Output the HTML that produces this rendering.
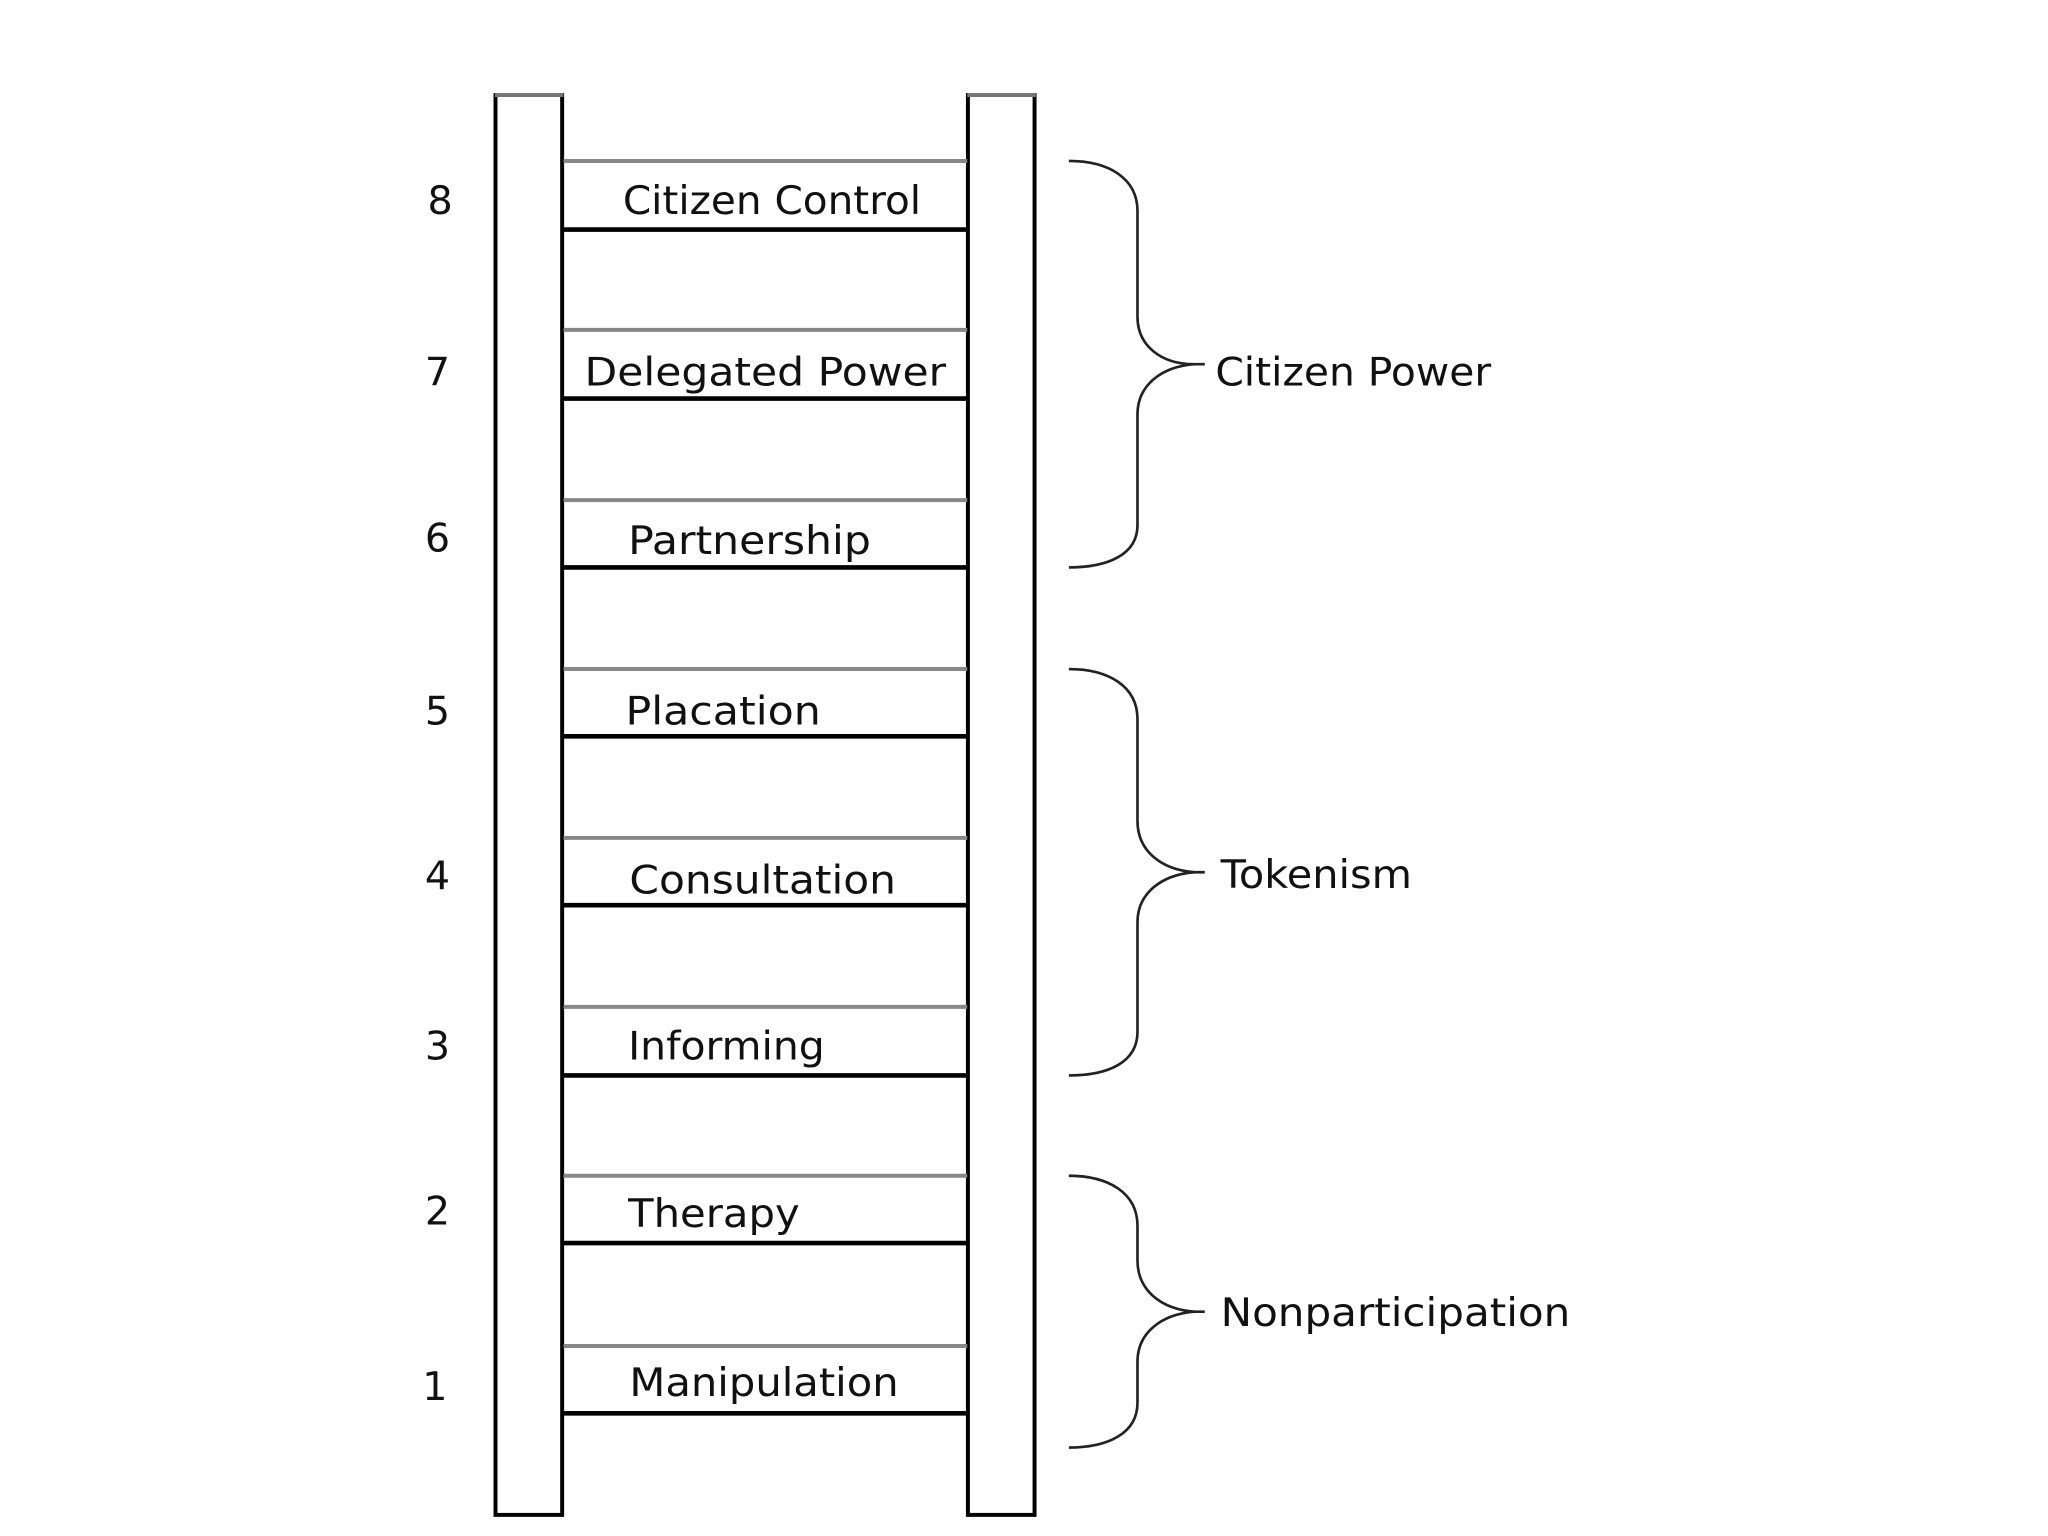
<!DOCTYPE html>
<html><head><meta charset="utf-8"><style>html,body{margin:0;padding:0;background:#fff}svg{display:block}</style></head>
<body>
<svg width="2048" height="1536" viewBox="0 0 1552 1164" xmlns="http://www.w3.org/2000/svg" font-family="'DejaVu Sans','Liberation Sans',sans-serif" font-size="30" fill="#111">
<rect width="1552" height="1164" fill="#fff"/>
<!-- rails -->
<rect x="375.5" y="72" width="50.5" height="1076" fill="#fff" stroke="#000" stroke-width="3"/>
<rect x="733.5" y="72" width="50.5" height="1076" fill="#fff" stroke="#000" stroke-width="3"/>
<line x1="375" y1="72" x2="427" y2="72" stroke="#777" stroke-width="3"/>
<line x1="733" y1="72" x2="785" y2="72" stroke="#777" stroke-width="3"/>
<g stroke-width="3">
<g stroke="#888">
<line x1="427" y1="122" x2="733" y2="122"/><line x1="427" y1="250" x2="733" y2="250"/>
<line x1="427" y1="379" x2="733" y2="379"/><line x1="427" y1="507" x2="733" y2="507"/>
<line x1="427" y1="635" x2="733" y2="635"/><line x1="427" y1="763" x2="733" y2="763"/>
<line x1="427" y1="891" x2="733" y2="891"/><line x1="427" y1="1020" x2="733" y2="1020"/>
</g>
<g stroke="#000" stroke-width="3.5">
<line x1="427" y1="174" x2="733" y2="174"/><line x1="427" y1="302" x2="733" y2="302"/>
<line x1="427" y1="430" x2="733" y2="430"/><line x1="427" y1="558" x2="733" y2="558"/>
<line x1="427" y1="686" x2="733" y2="686"/><line x1="427" y1="815" x2="733" y2="815"/>
<line x1="427" y1="942" x2="733" y2="942"/><line x1="427" y1="1071" x2="733" y2="1071"/>
</g>
</g>
<!-- labels -->
<g stroke="none">
<text x="472" y="162" textLength="226" lengthAdjust="spacingAndGlyphs">Citizen Control</text>
<text x="443" y="292" textLength="274" lengthAdjust="spacingAndGlyphs">Delegated Power</text>
<text x="476" y="420" textLength="184" lengthAdjust="spacingAndGlyphs">Partnership</text>
<text x="474" y="549" textLength="148" lengthAdjust="spacingAndGlyphs">Placation</text>
<text x="477" y="677" textLength="202" lengthAdjust="spacingAndGlyphs">Consultation</text>
<text x="476" y="803" textLength="149" lengthAdjust="spacingAndGlyphs">Informing</text>
<text x="476" y="930" textLength="130" lengthAdjust="spacingAndGlyphs">Therapy</text>
<text x="477" y="1058" textLength="204" lengthAdjust="spacingAndGlyphs">Manipulation</text>
<text x="324" y="162">8</text>
<text x="322" y="292">7</text>
<text x="322" y="418">6</text>
<text x="322" y="549">5</text>
<text x="322" y="674">4</text>
<text x="322" y="803">3</text>
<text x="322" y="928">2</text>
<text x="320" y="1061">1</text>
<text x="921" y="292" textLength="209" lengthAdjust="spacingAndGlyphs">Citizen Power</text>
<text x="925" y="673" textLength="145" lengthAdjust="spacingAndGlyphs">Tokenism</text>
<text x="925" y="1005" textLength="265" lengthAdjust="spacingAndGlyphs">Nonparticipation</text>
</g>
<!-- braces -->
<g fill="none" stroke="#222" stroke-width="2">
<path d="M810,122 C840,122 862,135 862,160 L862,240 C862,262 880,276 905,276 L913,276 M905,276 C880,278 862,292 862,314 L862,398 C862,420 840,430 810,430"/>
<path d="M810,507 C840,507 862,520 862,545 L862,622 C862,645 880,659 905,661 L913,661 M905,661 C880,663 862,677 862,699 L862,782 C862,805 840,815 810,815"/>
<path d="M810,891 C840,891 862,904 862,929 L862,955 C862,978 880,992 905,994 L913,994 M905,994 C880,996 862,1010 862,1032 L862,1063 C862,1086 840,1097 810,1097"/>
</g>
</svg>
</body></html>
